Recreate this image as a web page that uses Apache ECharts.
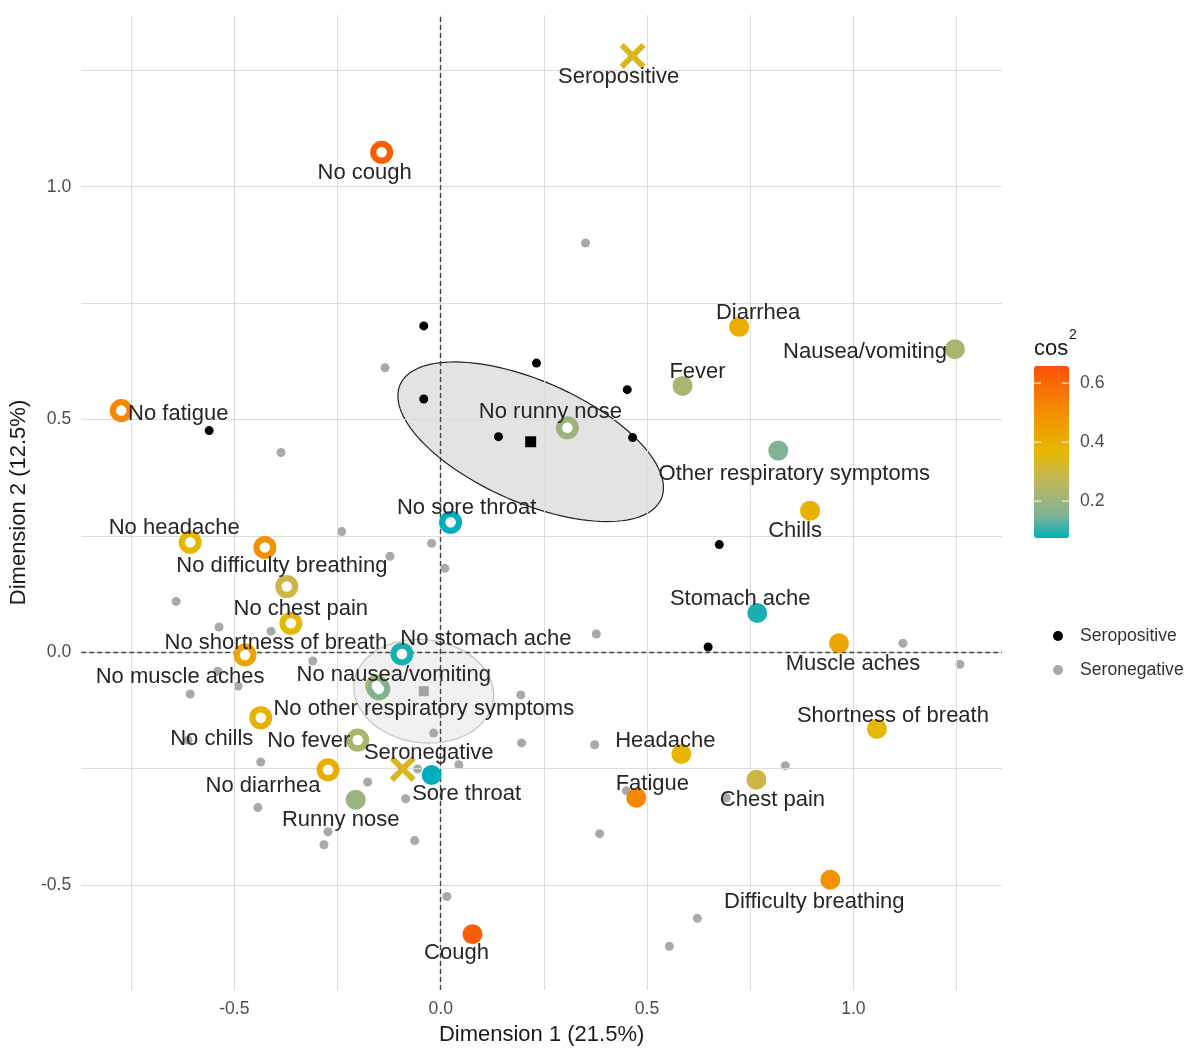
<!DOCTYPE html>
<html>
<head>
<meta charset="utf-8">
<script src="https://cdn.jsdelivr.net/npm/echarts@6/dist/echarts.min.js"></script>
<style>
html,body{margin:0;padding:0;background:#fff;}
#chart{width:1189px;height:1051px;}
</style>
</head>
<body>
<div id="chart"></div>
<script>
// ---------- DATA ----------
// Active categories: symptom present (filled circles)
const yesNames = ['Diarrhea','Nausea/vomiting','Fever','Other respiratory symptoms','Chills','Stomach ache','Muscle aches','Shortness of breath','Headache','Chest pain','Fatigue','Difficulty breathing','Cough','Runny nose','Sore throat'];
const yesX = [0.723, 1.246, 0.586, 0.818, 0.895, 0.767, 0.965, 1.057, 0.583, 0.765, 0.474, 0.944, 0.077, -0.206, -0.022];
const yesY = [0.699, 0.651, 0.572, 0.433, 0.304, 0.084, 0.019, -0.165, -0.219, -0.274, -0.313, -0.489, -0.606, -0.317, -0.264];
const yesCos2 = [0.40, 0.23, 0.23, 0.16, 0.39, 0.09, 0.43, 0.36, 0.375, 0.30, 0.515, 0.49, 0.625, 0.20, 0.075];

// Active categories: symptom absent (rings)
const noNames = ['No cough','No fatigue','No runny nose','No sore throat','No headache','No difficulty breathing','No chest pain','No shortness of breath','No muscle aches','No stomach ache','No nausea/vomiting','No other respiratory symptoms','No chills','No fever','No diarrhea'];
const noX = [-0.143, -0.774, 0.307, 0.024, -0.607, -0.426, -0.373, -0.363, -0.474, -0.094, -0.155, -0.150, -0.436, -0.201, -0.273];
const noY = [1.074, 0.519, 0.482, 0.279, 0.236, 0.225, 0.141, 0.062, -0.006, -0.004, -0.073, -0.079, -0.141, -0.189, -0.253];
const noCos2 = [0.625, 0.515, 0.20, 0.075, 0.375, 0.49, 0.30, 0.36, 0.43, 0.09, 0.23, 0.16, 0.39, 0.23, 0.40];

// Supplementary categories (crosses)
const supNames = ['Seropositive','Seronegative'];
const supX = [0.465, -0.092];
const supY = [1.281, -0.251];
const supCos2 = [0.335, 0.335];

// Individuals
const posIndX = [-0.041, 0.232, 0.452, -0.041, -0.561, 0.140, 0.465, 0.675, 0.648];
const posIndY = [0.701, 0.621, 0.564, 0.544, 0.476, 0.463, 0.461, 0.231, 0.011];
const negIndX = [0.351,-0.135,-0.387,-0.240,-0.022,-0.123,0.010,-0.641,-0.537,-0.411,-0.310,0.377,1.120,1.258,-0.540,-0.491,-0.607,0.194,-0.612,-0.017,0.196,0.373,-0.436,0.044,-0.056,-0.177,-0.085,-0.443,-0.273,-0.283,-0.063,0.385,0.015,0.835,0.450,0.692,0.622,0.554];
const negIndY = [0.879,0.611,0.429,0.259,0.234,0.206,0.180,0.109,0.054,0.045,-0.019,0.039,0.019,-0.026,-0.041,-0.073,-0.090,-0.092,-0.189,-0.174,-0.195,-0.199,-0.236,-0.242,-0.251,-0.279,-0.315,-0.334,-0.386,-0.414,-0.405,-0.390,-0.525,-0.244,-0.298,-0.313,-0.572,-0.632];

// Group centroids and confidence ellipses (semi-diameter vectors, data units)
const groupNames = ['Seropositive','Seronegative'];
const centroidX = [0.218, -0.041];
const centroidY = [0.452, -0.084];
const ellMajorX = [0.3163, 0.1686];
const ellMajorY = [-0.1228, -0.0188];
const ellMinorX = [-0.0592, -0.0156];
const ellMinorY = [-0.1197, -0.1098];

// Axes
const xMin = -0.871, xMax = 1.360;
const yMin = -0.726, yMax = 1.369;
const xTicks = [-0.5, 0, 0.5, 1.0];
const yTicks = [-0.5, 0, 0.5, 1.0];
const xGrid = [-0.75, -0.5, -0.25, 0, 0.25, 0.5, 0.75, 1.0, 1.25];
const yGrid = [-0.5, -0.25, 0, 0.25, 0.5, 0.75, 1.0, 1.25];
const cos2Limits = [0.075, 0.658];
const cos2Ticks = [0.2, 0.4, 0.6];

// ---------- STYLE / LAYOUT ----------
const FONT = '"Liberation Sans", Arial, Helvetica, sans-serif';
const ramp = ['#00AFBB','#7AB298','#A8B474','#CAB64C','#E7B800','#EEA200','#F48A01','#F86F04','#FC4E07'];
const groupStyle = {
  'Seropositive': {dot:'#000000', square:'#000000', sq:11, fill:'rgba(0,0,0,0.11)', stroke:'#222222'},
  'Seronegative': {dot:'#a9a9a9', square:'#a3a3a3', sq:10, fill:'rgba(128,128,128,0.11)', stroke:'#c2c2c2'}
};
const labelOffsets = {
 'Diarrhea':[19,-14],'Nausea/vomiting':[-90,3],'Fever':[15,-14],'Other respiratory symptoms':[16,23],
 'Chills':[-15,20],'Stomach ache':[-17,-14],'Muscle aches':[14,21],'Shortness of breath':[16,-13],
 'Headache':[-16,-13],'Chest pain':[16,20],'Fatigue':[16,-14],'Difficulty breathing':[-16,22],
 'Cough':[-16,19],'Runny nose':[-15,20],'Sore throat':[35,19],
 'No cough':[-17,21],'No fatigue':[57,3],'No runny nose':[-17,-16],'No sore throat':[16,-14],
 'No headache':[-16,-14],'No difficulty breathing':[17,19],'No chest pain':[14,22],
 'No shortness of breath':[-15,20],'No muscle aches':[-65,22],'No stomach ache':[84,-15],
 'No nausea/vomiting':[17,-11],'No other respiratory symptoms':[45,20],'No chills':[-49,21],
 'No fever':[-49,1],'No diarrhea':[-65,16],
 'Seropositive':[-14,21],'Seronegative':[26,-16]
};
const crossPath = 'path://M0,1.6L1.6,0L5,3.4L8.4,0L10,1.6L6.6,5L10,8.4L8.4,10L5,6.6L1.6,10L0,8.4L3.4,5Z';

// ---------- BUILD ----------
const yesData = yesNames.map((n,i)=>({name:n, value:[yesX[i], yesY[i], yesCos2[i]]}));
const noData = noNames.map((n,i)=>({name:n, value:[noX[i], noY[i], noCos2[i]]}));
const supData = supNames.map((n,i)=>({name:n, value:[supX[i], supY[i], supCos2[i]]}));
const posData = posIndX.map((x,i)=>[x, posIndY[i]]);
const negData = negIndX.map((x,i)=>[x, negIndY[i]]);
const centroidData = groupNames.map((g,i)=>({name:g, value:[centroidX[i], centroidY[i]],
   symbolSize: groupStyle[g].sq, itemStyle:{color: groupStyle[g].square, opacity:1}}));
const ellipseData = groupNames.map((g,i)=>[centroidX[i], centroidY[i], ellMajorX[i], ellMajorY[i], ellMinorX[i], ellMinorY[i]]);
const labelItems = [].concat(
  yesNames.map((n,i)=>({name:n, x:yesX[i], y:yesY[i]})),
  noNames.map((n,i)=>({name:n, x:noX[i], y:noY[i]})),
  supNames.map((n,i)=>({name:n, x:supX[i], y:supY[i]}))
);

const chart = echarts.init(document.getElementById('chart'), null, {renderer:'canvas'});

const gridLeft = 80, gridTop = 15, gridRight = 187, gridBottom = 58;
const cbLeft = 1034, cbTop = 366, cbW = 35, cbH = 172;
const cbY = v => cbTop + (cos2Limits[1]-v)/(cos2Limits[1]-cos2Limits[0])*cbH;

const graphics = [];
cos2Ticks.forEach(v=>{
  const y = cbY(v);
  graphics.push({type:'line', z:100, shape:{x1:cbLeft, y1:y, x2:cbLeft+7, y2:y}, style:{stroke:'#ffffff', lineWidth:1}});
  graphics.push({type:'line', z:100, shape:{x1:cbLeft+cbW-7, y1:y, x2:cbLeft+cbW, y2:y}, style:{stroke:'#ffffff', lineWidth:1}});
  graphics.push({type:'text', z:100, x:1080, y:y, style:{text:v.toFixed(1), fill:'#4d4d4d', font:'17.6px '+FONT, verticalAlign:'middle'}});
});
graphics.push({type:'text', z:100, x:1034, y:349, style:{text:'cos', fill:'#1a1a1a', font:'22px '+FONT, verticalAlign:'middle'}});
graphics.push({type:'text', z:100, x:1069, y:335, style:{text:'2', fill:'#1a1a1a', font:'14px '+FONT, verticalAlign:'middle'}});

const option = {
  animation:false,
  backgroundColor:'#ffffff',
  textStyle:{fontFamily:FONT},
  grid:{left:gridLeft, top:gridTop, right:gridRight, bottom:gridBottom, containLabel:false},
  xAxis:{
    type:'value', min:xMin, max:xMax,
    splitLine:{show:false}, axisLine:{show:false},
    axisTick:{show:true, customValues:xTicks, length:4, lineStyle:{color:'#333333', width:1}},
    axisLabel:{customValues:xTicks, formatter:v=>(+v).toFixed(1), color:'#4d4d4d', fontSize:17.6, margin:10, fontFamily:FONT},
    name:'Dimension 1 (21.5%)', nameLocation:'middle', nameGap:34,
    nameTextStyle:{fontSize:22, color:'#1a1a1a', fontFamily:FONT}
  },
  yAxis:{
    type:'value', min:yMin, max:yMax,
    splitLine:{show:false}, axisLine:{show:false},
    axisTick:{show:true, customValues:yTicks, length:4, lineStyle:{color:'#333333', width:1}},
    axisLabel:{customValues:yTicks, formatter:v=>(+v).toFixed(1), color:'#4d4d4d', fontSize:17.6, margin:10, fontFamily:FONT},
    name:'Dimension 2 (12.5%)', nameLocation:'middle', nameGap:47, nameRotate:90,
    nameTextStyle:{fontSize:22, color:'#1a1a1a', fontFamily:FONT}
  },
  visualMap:{
    type:'continuous', min:cos2Limits[0], max:cos2Limits[1], dimension:2,
    seriesIndex:[6,7,9], inRange:{color:ramp},
    calculable:false, hoverLink:false, realtime:false,
    orient:'vertical', left:cbLeft, top:cbTop, itemWidth:cbW, itemHeight:cbH,
    padding:0, text:null, showLabel:false
  },
  legend:{
    data:['Seropositive','Seronegative'], orient:'vertical', left:1048, top:622,
    icon:'circle', itemWidth:10, itemHeight:10, itemGap:16, selectedMode:false,
    textStyle:{fontSize:17.6, color:'#333333', fontFamily:FONT, padding:[0,0,0,12]}
  },
  graphic:graphics,
  series:[
    { // 0 grid lines
      type:'scatter', data:[], silent:true, z:1,
      markLine:{silent:true, symbol:['none','none'], label:{show:false}, animation:false,
        lineStyle:{color:'#dcdcdc', width:1, type:'solid'},
        data:[].concat(xGrid.map(v=>({xAxis:v})), yGrid.map(v=>({yAxis:v})))}
    },
    { // 1 ellipses
      type:'custom', z:2, silent:true, data:ellipseData,
      encode:{x:0, y:1},
      renderItem:function(params, api){
        const i = params.dataIndex;
        const cx = api.value(0), cy = api.value(1), ax = api.value(2), ay = api.value(3), bx = api.value(4), by = api.value(5);
        const pts = [];
        for (let k=0;k<=120;k++){
          const t = 2*Math.PI*k/120;
          pts.push(api.coord([cx + ax*Math.cos(t) + bx*Math.sin(t), cy + ay*Math.cos(t) + by*Math.sin(t)]));
        }
        const st = groupStyle[groupNames[i]];
        return {type:'polygon', shape:{points:pts}, style:{fill:st.fill, stroke:st.stroke, lineWidth:1.2}};
      }
    },
    { // 2 zero lines
      type:'scatter', data:[], silent:true, z:3,
      markLine:{silent:true, symbol:['none','none'], label:{show:false}, animation:false,
        lineStyle:{color:'#444444', width:1.4, type:[5,3]},
        data:[{xAxis:0},{yAxis:0}]}
    },
    { // 3 seronegative individuals
      name:'Seronegative', type:'scatter', z:4, data:negData, symbol:'circle', symbolSize:9,
      itemStyle:{color:groupStyle['Seronegative'].dot, opacity:1}
    },
    { // 4 seropositive individuals
      name:'Seropositive', type:'scatter', z:4, data:posData, symbol:'circle', symbolSize:9,
      itemStyle:{color:groupStyle['Seropositive'].dot, opacity:1}
    },
    { // 5 centroids
      name:'centroids', type:'scatter', z:4, data:centroidData, symbol:'rect', itemStyle:{opacity:1}
    },
    { // 6 present categories
      name:'present', type:'scatter', z:5, data:yesData, symbol:'circle', symbolSize:20, itemStyle:{opacity:1}
    },
    { // 7 absent categories ring outer
      name:'absent', type:'scatter', z:5, data:noData, symbol:'circle', symbolSize:23, itemStyle:{opacity:1}
    },
    { // 8 absent categories ring inner
      name:'absentInner', type:'scatter', z:5, data:noData, symbol:'circle', symbolSize:10.5,
      itemStyle:{color:'#ffffff', opacity:1}
    },
    { // 9 supplementary
      name:'supplementary', type:'scatter', z:5, data:supData, symbol:crossPath, symbolSize:26, itemStyle:{opacity:1}
    },
    { // 10 labels
      type:'custom', z:10, silent:true,
      data:labelItems.map(d=>[d.x, d.y]), encode:{x:0, y:1},
      renderItem:function(params, api){
        const item = labelItems[params.dataIndex];
        const p = api.coord([api.value(0), api.value(1)]);
        const off = labelOffsets[item.name] || [0,0];
        return {type:'text', x:p[0]+off[0], y:p[1]+off[1],
          style:{text:item.name, fill:'#262626', font:'22px '+FONT, align:'center', verticalAlign:'middle'}};
      }
    }
  ]
};
chart.setOption(option);
</script>
</body>
</html>
